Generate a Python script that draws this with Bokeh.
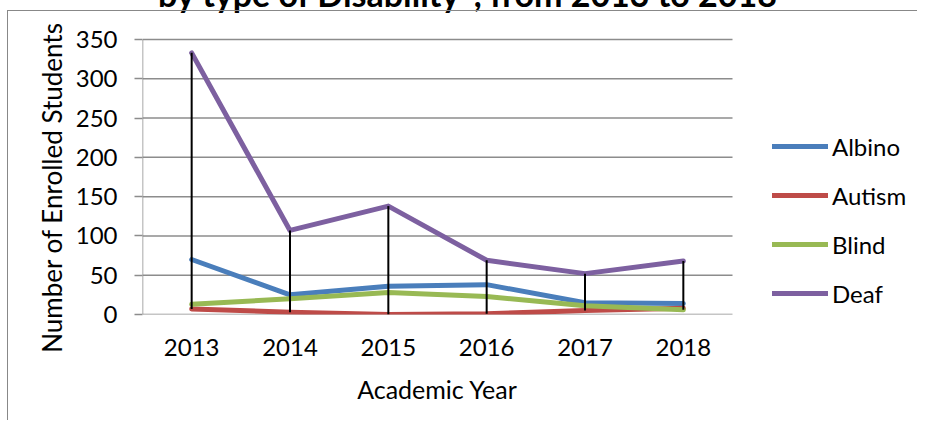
from bokeh.plotting import figure
from bokeh.models import Range1d, FixedTicker, Legend, LegendItem, Label
from bokeh.embed import file_html
from bokeh.resources import INLINE

# ---- data ----
years = [2013, 2014, 2015, 2016, 2017, 2018]
year_labels = ["2013", "2014", "2015", "2016", "2017", "2018"]
albino = [70, 25, 36, 38, 15, 14]
autism = [7, 3, 0, 1, 5, 8]
blind = [13, 20, 28, 23, 11, 6]
deaf = [333, 107, 138, 69, 52, 68]
series_names = ["Albino", "Autism", "Blind", "Deaf"]
series_values = [albino, autism, blind, deaf]
series_colors = ["#4A7EBB", "#BE4B48", "#98B954", "#7D60A0"]
y_ticks = [0, 50, 100, 150, 200, 250, 300, 350]
title_text = "by type of Disability*, from 2013 to 2018"
x_title = "Academic Year"
y_title = "Number of Enrolled Students"

FONT = "Lato"
FS = "24px"
GRID = "#8c8c8c"

SHIFT = 40                         # canvas starts SHIFT px above the window
W, H = 917, 420 + SHIFT
PL, PR, PT, PB = 142, 732, 39 + SHIFT, 314 + SHIFT   # plot area, canvas px

x0, x1 = years[0] - 0.5, years[-1] + 0.5
ppx = (PR - PL) / (x1 - x0)
ppy = (PB - PT) / (y_ticks[-1] - y_ticks[0])
# frame spans from the plot area's left/bottom to the canvas' right/top edges,
# so that legend and title (annotations) are not clipped
x_end = x0 + (W - PL) / ppx
y_end = y_ticks[0] + PB / ppy

def dx(cx):
    return x0 + (cx - PL) / ppx
def dy(cy):
    return (PB - cy) / ppy

p = figure(width=W, height=H, output_backend="svg", toolbar_location=None,
           x_range=Range1d(x0, x_end), y_range=Range1d(y_ticks[0], y_end),
           min_border_left=PL, min_border_right=0,
           min_border_top=0, min_border_bottom=H - PB)
p.margin = (-SHIFT, 0, 0, 0)
p.outline_line_color = None
p.background_fill_color = "white"
p.border_fill_color = "white"
p.stylesheets = [
    ":host::after { content: ''; position: absolute; left: 7px; top: %dpx; "
    "right: 0px; bottom: 0px; border-left: 1.5px solid #888; "
    "border-top: 1.5px solid #888; pointer-events: none; }" % (10 + SHIFT)
]

p.xgrid.visible = False
p.ygrid.visible = False
# horizontal gridlines across the plot area only
p.segment(x0=[x0] * len(y_ticks), y0=y_ticks, x1=[x1] * len(y_ticks), y1=y_ticks,
          line_color=GRID, line_width=1.5)
# value-axis line over the plot area
p.segment(x0=[x0], y0=[y_ticks[0]], x1=[x0], y1=[y_ticks[-1]],
          line_color=GRID, line_width=1.5)

p.yaxis.ticker = FixedTicker(ticks=y_ticks)
p.yaxis.axis_line_color = None
p.yaxis.major_tick_line_color = GRID
p.yaxis.major_tick_line_width = 1.5
p.yaxis.major_tick_out = 8
p.yaxis.major_tick_in = 0
p.yaxis.minor_tick_line_color = None
p.yaxis.major_label_standoff = 17
p.yaxis.major_label_text_font = FONT
p.yaxis.major_label_text_font_size = FS
p.yaxis.major_label_text_color = "black"
p.yaxis.axis_label = y_title + "\u00a0" * 15
p.yaxis.axis_label_text_font = FONT
p.yaxis.axis_label_text_font_size = "26px"
p.yaxis.axis_label_text_font_style = "normal"
p.yaxis.axis_label_text_color = "black"
p.yaxis.axis_label_standoff = 5

p.xaxis.ticker = FixedTicker(ticks=years)
p.xaxis.major_label_overrides = {y: l for y, l in zip(years, year_labels)}
p.xaxis.axis_line_color = None
p.xaxis.major_tick_line_color = None
p.xaxis.major_tick_out = 0
p.xaxis.major_tick_in = 0
p.xaxis.minor_tick_line_color = None
p.xaxis.major_label_standoff = 24
p.xaxis.major_label_text_font = FONT
p.xaxis.major_label_text_font_size = FS
p.xaxis.major_label_text_color = "black"
# axis title centred under the plot area (frame is wider): pad on the right
p.xaxis.axis_label = x_title + "\u00a0" * 29
p.xaxis.axis_label_text_font = FONT
p.xaxis.axis_label_text_font_size = "25px"
p.xaxis.axis_label_text_font_style = "normal"
p.xaxis.axis_label_text_color = "black"
p.xaxis.axis_label_standoff = 15

items = []
for name, vals, col in zip(series_names, series_values, series_colors):
    r = p.line(years, vals, line_color=col, line_width=5,
               line_cap="round", line_join="round")
    items.append(LegendItem(label=name, renderers=[r]))

hi = [max(v) for v in zip(*series_values)]
lo = [min(v) for v in zip(*series_values)]
p.segment(x0=years, y0=hi, x1=years, y1=lo, line_color="black", line_width=2)

legend = Legend(items=items, location=(772 - PL, PB - 357.4),
                glyph_width=56, glyph_height=48, label_standoff=4,
                padding=0, margin=0, spacing=1,
                border_line_color=None, background_fill_alpha=0,
                label_text_font=FONT, label_text_font_size=FS,
                label_text_color="black")
p.add_layout(legend)

p.add_layout(Label(x=dx(778), y=dy(SHIFT - 7), text=title_text,
                   text_align="right", text_baseline="alphabetic",
                   text_font=FONT, text_font_size="34px", text_font_style="bold",
                   text_color="black"))

open("out.html", "w").write(file_html(p, INLINE))
